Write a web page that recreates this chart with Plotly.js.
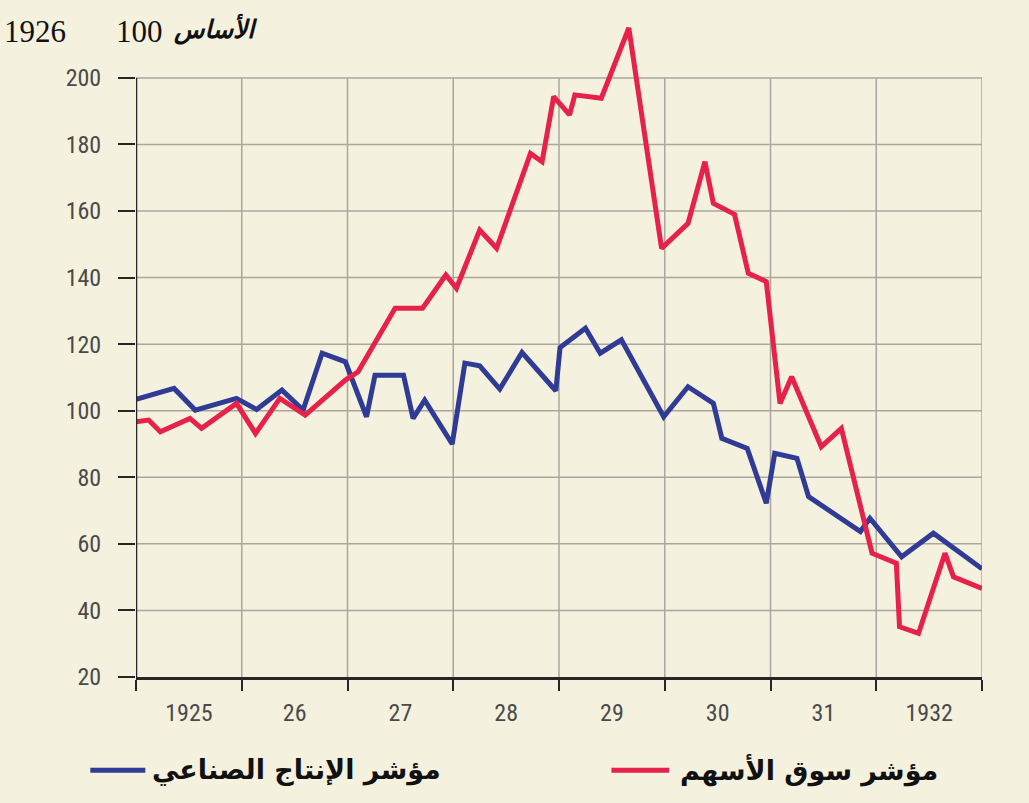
<!DOCTYPE html>
<html>
<head>
<meta charset="utf-8">
<script src="https://cdn.plot.ly/plotly-3.0.1.min.js"></script>
<style>html,body{margin:0;padding:0;background:#f4f1de;}</style>
</head>
<body>
<div id="chart" style="width:1029px;height:803px;"></div>
<script>
// ---- data ----
const seriesNames = ["مؤشر الإنتاج الصناعي", "مؤشر سوق الأسهم"];
const industryX = [1925.00,1925.36,1925.56,1925.95,1926.14,1926.38,1926.58,1926.76,1926.98,1927.18,1927.26,1927.53,1927.62,1927.73,1927.99,1928.11,1928.25,1928.44,1928.65,1928.97,1929.01,1929.25,1929.39,1929.59,1929.99,1930.22,1930.46,1930.54,1930.78,1930.96,1931.04,1931.25,1931.36,1931.85,1931.94,1932.24,1932.54,1933.00];
const industryY = [103.4,106.7,100.2,103.7,100.4,106.2,100.2,117.3,114.7,98.2,110.7,110.7,97.7,103.2,90,114.3,113.5,106.5,117.5,106,119,124.8,117.3,121.3,98.2,107.2,102.2,91.7,88.7,72.2,87.2,85.7,74.2,63.7,67.7,56.1,63.2,52.5];
const stocksX = [1925.00,1925.12,1925.23,1925.51,1925.62,1925.95,1926.13,1926.36,1926.60,1926.98,1927.10,1927.45,1927.71,1927.93,1928.03,1928.25,1928.41,1928.73,1928.84,1928.95,1929.10,1929.15,1929.40,1929.66,1929.97,1930.22,1930.38,1930.46,1930.66,1930.79,1930.96,1931.09,1931.20,1931.48,1931.67,1931.96,1932.19,1932.22,1932.40,1932.65,1932.73,1933.00];
const stocksY = [96.7,97.2,93.7,97.7,94.7,102.2,93.2,103.7,98.7,109.2,111.7,130.8,130.8,140.8,136.8,154.3,148.8,177.3,174.8,194.4,188.9,194.9,193.9,215,148.8,156.3,174.8,162.3,159.0,141.3,138.8,102.2,110.2,89.2,94.7,57.2,54.2,35.1,33.1,57.2,50.1,46.6];
const yTicks = [20,40,60,80,100,120,140,160,180,200];
const yearBounds = [1925,1926,1927,1928,1929,1930,1931,1932,1933];
const yearLabelPos = [1925.5,1926.5,1927.5,1928.5,1929.5,1930.5,1931.5,1932.5];
const yearLabels = ["1925","26","27","28","29","30","31","1932"];
const baseYear = "1926";
const baseValue = "100";
const baseWord = "الأساس";

// ---- styles ----
const blue = "#2f3b95";
const red = "#e6214a";
const gridColor = "#a9a7a0";
const axisColor = "#262626";
const tickFont = {family: "Liberation Sans Narrow, Arial Narrow, Roboto Condensed, sans-serif", size: 24, color: "#4a4a4a"};
const arabicFont = {family: "DejaVu Sans, Noto Sans, sans-serif", size: 27, color: "#111"};

const traces = [
  {x: industryX, y: industryY, name: seriesNames[0], type: "scatter", mode: "lines",
   line: {color: blue, width: 5}, hoverinfo: "x+y"},
  {x: stocksX, y: stocksY, name: seriesNames[1], type: "scatter", mode: "lines",
   line: {color: red, width: 5}, hoverinfo: "x+y"}
];

const yTop = yTicks[yTicks.length - 1];
const shapes = [];
yTicks.slice(1).forEach(v => shapes.push({type: "line", xref: "x", yref: "y", layer: "below",
  x0: yearBounds[0], x1: yearBounds[yearBounds.length - 1], y0: v, y1: v,
  line: {color: gridColor, width: 1.5}}));
yearBounds.slice(1).forEach(v => shapes.push({type: "line", xref: "x", yref: "y", layer: "below",
  x0: v, x1: v, y0: yTicks[0], y1: yTop, line: {color: gridColor, width: 1.5}}));
// y axis line (stops at top tick)
shapes.push({type: "line", xref: "x", yref: "y", layer: "above",
  x0: yearBounds[0], x1: yearBounds[0], y0: yTicks[0], y1: yTop, line: {color: axisColor, width: 2.5}});
// manual legend line samples
const legendY = -0.142;
shapes.push({type: "line", xref: "paper", yref: "paper", x0: -0.054, x1: 0.011, y0: legendY, y1: legendY,
  line: {color: blue, width: 5}});
shapes.push({type: "line", xref: "paper", yref: "paper", x0: 0.562, x1: 0.630, y0: legendY, y1: legendY,
  line: {color: red, width: 5}});

const annotations = [
  {xref: "paper", yref: "paper", x: -0.080, y: 0.982, xanchor: "right", yanchor: "middle", showarrow: false,
   text: baseYear, font: {family: "Liberation Serif, DejaVu Serif, serif", size: 31, color: "#111"}},
  {xref: "paper", yref: "paper", x: -0.026, y: 0.982, xanchor: "left", yanchor: "middle", showarrow: false,
   text: baseValue, font: {family: "Liberation Serif, DejaVu Serif, serif", size: 31, color: "#111"}},
  {xref: "paper", yref: "paper", x: 0.041, y: 0.986, xanchor: "left", yanchor: "middle", showarrow: false,
   text: "<b><i>" + baseWord + "</i></b>", font: {family: arabicFont.family, size: 25, color: "#111"}},
  {xref: "paper", yref: "paper", x: 0.017, y: legendY, xanchor: "left", yanchor: "middle", showarrow: false,
   text: "<b>" + seriesNames[0] + "</b>", font: arabicFont},
  {xref: "paper", yref: "paper", x: 0.641, y: legendY, xanchor: "left", yanchor: "middle", showarrow: false,
   text: "<b>" + seriesNames[1] + "</b>", font: arabicFont}
];

const layout = {
  width: 1029, height: 803,
  margin: {l: 136, r: 47, t: 20, b: 126},
  paper_bgcolor: "#f4f1de", plot_bgcolor: "#f4f1de",
  showlegend: false,
  xaxis: {
    range: [yearBounds[0], yearBounds[yearBounds.length - 1]],
    tickmode: "array", tickvals: yearLabelPos, ticktext: yearLabels,
    ticks: "", showgrid: false, zeroline: false,
    showline: true, linecolor: axisColor, linewidth: 3,
    tickfont: tickFont, ticklabelstandoff: 12,
    minor: {tickmode: "array", tickvals: yearBounds, ticks: "outside", ticklen: 11, tickwidth: 2,
            tickcolor: axisColor, showgrid: false}
  },
  yaxis: {
    range: [yTicks[0], 217.4],
    tickmode: "array", tickvals: yTicks, ticktext: yTicks.map(String),
    ticks: "outside", ticklen: 17, tickwidth: 2, tickcolor: axisColor,
    showgrid: false, zeroline: false, showline: false,
    tickfont: tickFont, ticklabelstandoff: 12
  },
  shapes: shapes,
  annotations: annotations
};

Plotly.newPlot("chart", traces, layout, {displayModeBar: false, staticPlot: true});
</script>
</body>
</html>
